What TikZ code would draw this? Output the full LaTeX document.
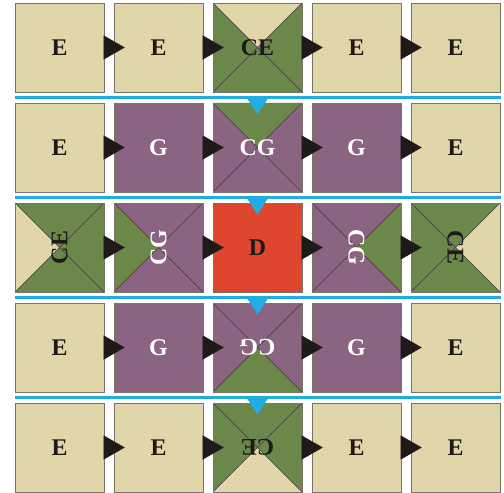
\documentclass[tikz,border=0pt]{standalone}
\usepackage{fontspec}
\setmainfont{Liberation Serif}
\usetikzlibrary{arrows.meta,calc}
\definecolor{beige}{HTML}{E1D5AA}
\definecolor{grn}{HTML}{6B874A}
\definecolor{purp}{HTML}{8A6480}
\definecolor{redd}{HTML}{DE4630}
\definecolor{sky}{HTML}{22ACE4}
\definecolor{ink}{HTML}{1E1A1A}
\definecolor{edge}{HTML}{7A7466}
\begin{document}
\begin{tikzpicture}[x=1bp,y=-1bp,
  cell/.style={draw=edge, line width=0.6bp, minimum size=89bp, inner sep=0pt,
    font=\bfseries\fontsize{24}{24}\selectfont, text=ink},
  Ecell/.style={cell, fill=beige},
  Gcell/.style={cell, fill=purp, text=white},
  Dcell/.style={cell, fill=redd},
  CEcell/.style={cell, fill=grn},
  CGcell/.style={cell, fill=purp, text=white},
  diag/.style={draw=ink!85, line width=0.45bp},
  wedgeN/.style={path picture={
    \fill[#1] (path picture bounding box.north west) -- (path picture bounding box.north east) -- (path picture bounding box.center) -- cycle;
    \draw[diag] (path picture bounding box.north west) -- (path picture bounding box.south east)
                (path picture bounding box.north east) -- (path picture bounding box.south west);}},
  wedgeS/.style={path picture={
    \fill[#1] (path picture bounding box.south west) -- (path picture bounding box.south east) -- (path picture bounding box.center) -- cycle;
    \draw[diag] (path picture bounding box.north west) -- (path picture bounding box.south east)
                (path picture bounding box.north east) -- (path picture bounding box.south west);}},
  wedgeW/.style={path picture={
    \fill[#1] (path picture bounding box.north west) -- (path picture bounding box.south west) -- (path picture bounding box.center) -- cycle;
    \draw[diag] (path picture bounding box.north west) -- (path picture bounding box.south east)
                (path picture bounding box.north east) -- (path picture bounding box.south west);}},
  wedgeE/.style={path picture={
    \fill[#1] (path picture bounding box.north east) -- (path picture bounding box.south east) -- (path picture bounding box.center) -- cycle;
    \draw[diag] (path picture bounding box.north west) -- (path picture bounding box.south east)
                (path picture bounding box.north east) -- (path picture bounding box.south west);}},
  blk/.style={draw=ink, line width=0.3bp, -{Triangle[length=21bp,width=24bp]}},
  sepline/.style={draw=sky, line width=2.6bp},
  bluetip/.style={fill=sky}
]
\useasboundingbox (0,0) rectangle (504,493);
% row 1
\node[Ecell] (c11) at (59.5,47.5) {E};
\node[Ecell] (c12) at (158.5,47.5) {E};
\node[CEcell,wedgeN=beige] (c13) at (257.5,47.5) {CE};
\node[Ecell] (c14) at (356.5,47.5) {E};
\node[Ecell] (c15) at (455.5,47.5) {E};
% row 2
\node[Ecell] (c21) at (59.5,147.5) {E};
\node[Gcell] (c22) at (158.5,147.5) {G};
\node[CGcell,wedgeN=grn] (c23) at (257.5,147.5) {CG};
\node[Gcell] (c24) at (356.5,147.5) {G};
\node[Ecell] (c25) at (455.5,147.5) {E};
% row 3
\node[CEcell,wedgeW=beige] (c31) at (59.5,247.5) {\rotatebox{90}{CE}};
\node[CGcell,wedgeW=grn] (c32) at (158.5,247.5) {\rotatebox{90}{CG}};
\node[Dcell] (c33) at (257.5,247.5) {D};
\node[CGcell,wedgeE=grn] (c34) at (356.5,247.5) {\rotatebox{-90}{CG}};
\node[CEcell,wedgeE=beige] (c35) at (455.5,247.5) {\rotatebox{-90}{CE}};
% row 4
\node[Ecell] (c41) at (59.5,347.5) {E};
\node[Gcell] (c42) at (158.5,347.5) {G};
\node[CGcell,wedgeS=grn] (c43) at (257.5,347.5) {\rotatebox{180}{CG}};
\node[Gcell] (c44) at (356.5,347.5) {G};
\node[Ecell] (c45) at (455.5,347.5) {E};
% row 5
\node[Ecell] (c51) at (59.5,447.5) {E};
\node[Ecell] (c52) at (158.5,447.5) {E};
\node[CEcell,wedgeS=beige] (c53) at (257.5,447.5) {\rotatebox{180}{CE}};
\node[Ecell] (c54) at (356.5,447.5) {E};
\node[Ecell] (c55) at (455.5,447.5) {E};
% black arrows
\foreach \r in {1,...,5}{
  \foreach \a/\b in {1/2,2/3,3/4,4/5}{
    \draw[blk] (c\r\a.east) -- ($(c\r\b.west)+(11,0)$);
  }
}
% blue triangles
\foreach \r in {2,...,5}{
  \fill[bluetip] ($(c\r3.north)+(-11.5,-6)$) -- ($(c\r3.north)+(11.5,-6)$) -- ($(c\r3.north)+(0,12)$) -- cycle;
}
% blue separator lines
\foreach \r/\s in {1/2,2/3,3/4,4/5}{
  \draw[sepline] ($(c\r1.south west)!0.5!(c\s1.north west)$) -- ($(c\r5.south east)!0.5!(c\s5.north east)+(1,0)$);
}
\end{tikzpicture}
\end{document}
